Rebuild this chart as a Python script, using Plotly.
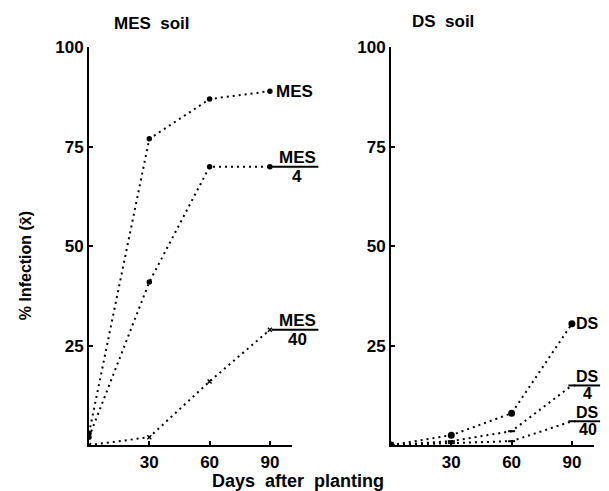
import plotly.graph_objects as go

# days after planting
days = [0, 30, 60, 90]

# MES soil, % infection
mes = [3, 77, 87, 89]
mes_4 = [2, 41, 70, 70]
mes_40 = [0, 2, 16, 29]

# DS soil, % infection
ds = [0, 2.5, 8, 30.5]
ds_4 = [0, 1, 3.5, 15]
ds_40 = [0, 0.5, 1, 6]

x_ticks = [30, 60, 90]
y_ticks = [25, 50, 75, 100]

FONT = "Liberation Sans"
# figure size and where it lands in the screenshot (measured from earlier runs)
OFF_X = 8
W, H = 609 - 2 * OFF_X, 483
TOP, SCALE_Y = 15.6, 0.982


def px_x(p):
    return (p - OFF_X) / W


def px_y(p):
    return 1 - ((p - TOP) / SCALE_Y) / H


fig = go.Figure()

line_style = dict(color="black", width=2, dash="2px,4px")

for name, vals, sym in [("MES", mes, "circle"), ("MES/4", mes_4, "circle"),
                        ("MES/40", mes_40, "x-thin-open")]:
    fig.add_trace(go.Scatter(x=days, y=vals, mode="lines+markers", name=name,
                             line=line_style,
                             marker=dict(symbol=sym, size=4, color="black",
                                         line=dict(color="black", width=1.5)),
                             xaxis="x", yaxis="y", showlegend=False))

for name, vals, sym in [("DS", ds, "circle"), ("DS/4", ds_4, "line-ew-open"),
                        ("DS/40", ds_40, "line-ew-open")]:
    fig.add_trace(go.Scatter(x=days, y=vals, mode="lines+markers", name=name,
                             line=line_style,
                             marker=dict(symbol=sym, size=5, color="black",
                                         line=dict(color="black", width=2)),
                             xaxis="x2", yaxis="y2", showlegend=False))

ax_common = dict(showgrid=False, zeroline=False, showline=True, linecolor="black",
                 linewidth=2, ticks="inside", ticklen=4, tickwidth=2, tickcolor="black",
                 tickfont=dict(family=FONT, size=17, color="black", weight="bold"))

y_dom = [px_y(444), px_y(46)]
fig.update_layout(
    width=W, height=H,
    margin=dict(l=0, r=0, t=0, b=0),
    paper_bgcolor="white", plot_bgcolor="white",
    xaxis=dict(domain=[px_x(89), px_x(292)], range=[0, 101], tickvals=x_ticks,
               anchor="y", **ax_common),
    yaxis=dict(domain=y_dom, range=[0, 100], tickvals=y_ticks, anchor="x", **ax_common),
    xaxis2=dict(domain=[px_x(391), px_x(594)], range=[0, 101], tickvals=x_ticks,
                anchor="y2", **ax_common),
    yaxis2=dict(domain=y_dom, range=[0, 100], tickvals=y_ticks, anchor="x2", **ax_common),
)

text_font = dict(family=FONT, size=17, color="black", weight="bold")
ds_font = dict(family=FONT, size=16, color="black", weight="bold")
title_font = dict(family=FONT, size=17, color="black", weight="bold")


def paper_text(text, x, y, angle=0, size=17):
    fig.add_annotation(text=text, x=px_x(x), y=px_y(y), xref="paper", yref="paper",
                       xanchor="center", yanchor="middle", showarrow=False,
                       textangle=angle, font=dict(title_font, size=size))


paper_text("MES  soil", 152, 22)
paper_text("DS  soil", 443, 20)
paper_text("% Infection (x\u0304)", 25, 265, angle=-90, size=16)
paper_text("Days  after  planting", 298, 480, size=18)

# end labels
fig.add_annotation(text="MES", x=92, y=mes[-1], xref="x", yref="y", xanchor="left",
                   showarrow=False, font=text_font)
fig.add_annotation(text="DS", x=91, y=ds[-1], xref="x2", yref="y2", xanchor="left",
                   showarrow=False, font=ds_font)

# fraction labels: (axes, numerator, denominator, y, bar start, bar end, text centre, font)
fractions = [
    ("x", "y", "MES", "4", mes_4[-1], 0.9, 1.13, 1.025, text_font),
    ("x", "y", "MES", "40", mes_40[-1], 0.9, 1.13, 1.025, text_font),
    ("x2", "y2", "DS", "4", ds_4[-1], 0.9, 1.03, 0.97, ds_font),
    ("x2", "y2", "DS", "40", ds_40[-1], 0.9, 1.03, 0.97, ds_font),
]
for xr, yr, top, bottom, yv, x0, x1, xc, fnt in fractions:
    fig.add_annotation(text=top, x=xc, y=yv, xref=xr + " domain", yref=yr,
                       xanchor="center", yanchor="bottom", yshift=-2,
                       showarrow=False, font=fnt)
    fig.add_annotation(text=bottom, x=xc, y=yv, xref=xr + " domain", yref=yr,
                       xanchor="center", yanchor="top", yshift=2,
                       showarrow=False, font=fnt)
    fig.add_shape(type="line", x0=x0, x1=x1, y0=yv, y1=yv, xref=xr + " domain", yref=yr,
                  line=dict(color="black", width=2))

fig.write_html("out.html")
